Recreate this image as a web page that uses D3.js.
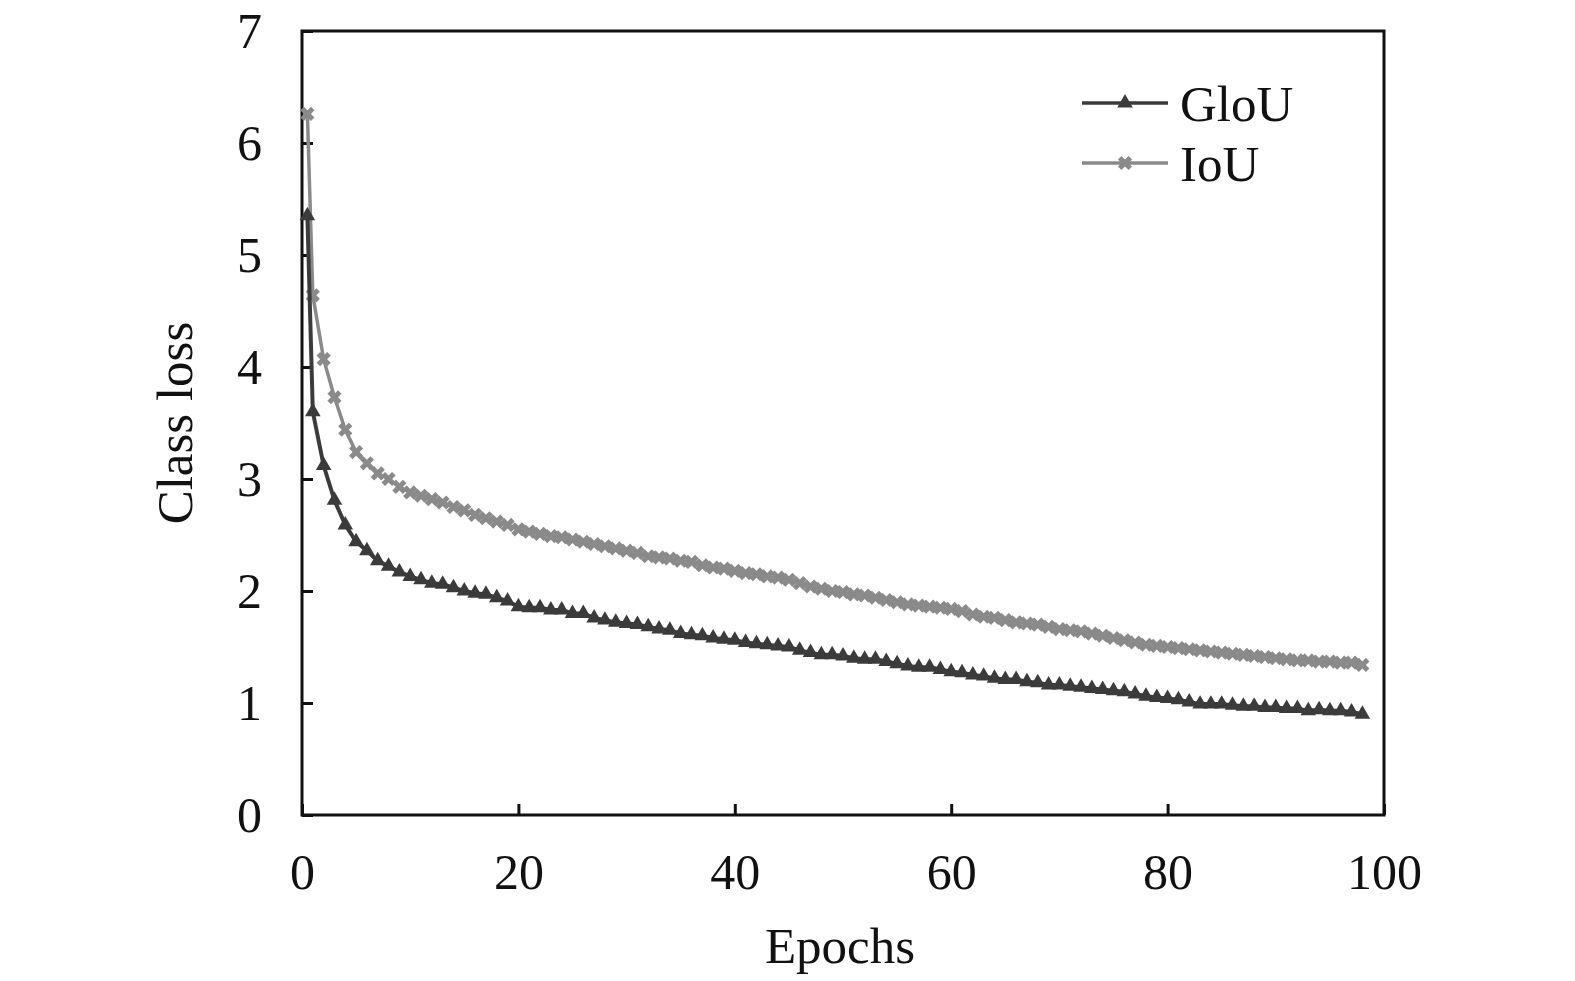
<!DOCTYPE html>
<html>
<head>
<meta charset="utf-8">
<script src="https://cdn.jsdelivr.net/npm/d3@7"></script>
<style>
  body { margin: 0; background: #fff; }
  svg text { font-family: "Liberation Serif", "DejaVu Serif", serif; fill: #111; }
</style>
</head>
<body>
<svg width="1575" height="981"></svg>
<script>
"use strict";

const epochs = [0.5].concat(d3.range(1, 99));

const glouLoss = [
    5.35, 3.60, 3.12, 2.81, 2.59, 2.44, 2.36, 2.27, 2.22, 2.17,
    2.13, 2.10, 2.07, 2.06, 2.03, 2.00, 1.98, 1.97, 1.94, 1.91,
    1.86, 1.85, 1.85, 1.83, 1.83, 1.80, 1.80, 1.76, 1.74, 1.72,
    1.71, 1.70, 1.68, 1.66, 1.65, 1.62, 1.61, 1.60, 1.58, 1.57,
    1.56, 1.54, 1.53, 1.52, 1.51, 1.50, 1.47, 1.45, 1.43, 1.43,
    1.42, 1.40, 1.39, 1.39, 1.37, 1.35, 1.33, 1.32, 1.32, 1.30,
    1.28, 1.27, 1.25, 1.24, 1.22, 1.21, 1.21, 1.19, 1.18, 1.16,
    1.16, 1.15, 1.14, 1.13, 1.12, 1.11, 1.10, 1.08, 1.06, 1.05,
    1.04, 1.03, 1.01, 0.99, 0.99, 0.99, 0.98, 0.97, 0.97, 0.96,
    0.96, 0.95, 0.95, 0.93, 0.94, 0.93, 0.93, 0.92, 0.90
];

const iouLoss = [
    6.26, 4.64, 4.07, 3.73, 3.44, 3.24, 3.14, 3.05, 3.00, 2.93,
    2.88, 2.85, 2.82, 2.79, 2.75, 2.72, 2.68, 2.65, 2.62, 2.59,
    2.55, 2.53, 2.51, 2.49, 2.48, 2.46, 2.44, 2.42, 2.40, 2.38,
    2.36, 2.34, 2.31, 2.30, 2.29, 2.27, 2.26, 2.23, 2.21, 2.20,
    2.18, 2.16, 2.15, 2.13, 2.12, 2.10, 2.07, 2.04, 2.02, 2.00,
    1.99, 1.97, 1.96, 1.94, 1.92, 1.90, 1.88, 1.87, 1.86, 1.85,
    1.84, 1.82, 1.79, 1.77, 1.76, 1.74, 1.72, 1.71, 1.70, 1.68,
    1.66, 1.65, 1.64, 1.62, 1.60, 1.58, 1.56, 1.54, 1.52, 1.51,
    1.50, 1.49, 1.48, 1.47, 1.46, 1.45, 1.44, 1.43, 1.42, 1.41,
    1.40, 1.39, 1.38, 1.38, 1.37, 1.37, 1.36, 1.36, 1.34
];

const xTicks = [0, 20, 40, 60, 80, 100];
const yTicks = [0, 1, 2, 3, 4, 5, 6, 7];

const seriesNames = ['GloU', 'IoU'];
const seriesColors = { GloU: '#3b3b3b', IoU: '#8a8a8a' };

const svg = d3.select('svg');
const margin = {top: 31, right: 191, bottom: 166, left: 302},
    width = +svg.attr('width') - margin.left - margin.right,
    height = +svg.attr('height') - margin.top - margin.bottom,
    g = svg.append('g').attr('transform', `translate(${margin.left},${margin.top})`);

const x = d3.scaleLinear().domain([0, 100]).range([0, width]);
const y = d3.scaleLinear().domain([0, 7]).range([height, 0]);

// axes, ticks pointing inward
const xAxis = g.append('g')
    .attr('transform', `translate(0,${height})`)
    .call(d3.axisBottom(x).tickValues(xTicks).tickFormat(d3.format('d'))
        .tickSizeInner(-11).tickSizeOuter(0).tickPadding(38));
const yAxis = g.append('g')
    .call(d3.axisLeft(y).tickValues(yTicks).tickFormat(d3.format('d'))
        .tickSizeInner(-11).tickSizeOuter(0).tickPadding(40));

[xAxis, yAxis].forEach(a => {
    a.select('.domain').remove();
    a.selectAll('line').attr('stroke', '#111').attr('stroke-width', 3);
    a.selectAll('text').attr('font-size', '50px').attr('fill', '#111');
});

// frame
g.append('rect')
    .attr('width', width).attr('height', height)
    .attr('fill', 'none').attr('stroke', '#111').attr('stroke-width', 3);

g.append('text')
    .attr('x', width / 2 - 3).attr('y', height + 148)
    .attr('text-anchor', 'middle').attr('font-size', '51px')
    .text('Epochs');

g.append('text')
    .attr('transform', `translate(${-110},${height / 2}) rotate(-90)`)
    .attr('text-anchor', 'middle').attr('font-size', '51px')
    .text('Class loss');

const tri = d3.symbol().type(d3.symbolTriangle).size(105);
const cross = d3.symbol().type(d3.symbolCross).size(125);

function drawSeries(values, name) {
    const pts = epochs.map((e, i) => ({e: e, v: values[i]}));
    const line = d3.line().x(d => x(d.e)).y(d => y(d.v));
    const col = seriesColors[name];
    g.append('path')
        .datum(pts)
        .attr('fill', 'none')
        .attr('stroke', col)
        .attr('stroke-width', name === 'GloU' ? 4 : 3.5)
        .attr('d', line);
    g.selectAll(`.pt-${name}`)
        .data(pts)
        .enter().append('path')
        .attr('class', `pt-${name}`)
        .attr('transform', d => `translate(${x(d.e)},${y(d.v)})` + (name === 'IoU' ? ' rotate(45)' : ''))
        .attr('d', name === 'GloU' ? tri : cross)
        .attr('fill', col);
}

drawSeries(iouLoss, 'IoU');
drawSeries(glouLoss, 'GloU');

// legend
const legend = svg.append('g').attr('transform', 'translate(1082,103)');
seriesNames.forEach((name, i) => {
    const row = legend.append('g').attr('transform', `translate(0,${i * 60})`);
    row.append('line')
        .attr('x1', 0).attr('x2', 86)
        .attr('stroke', seriesColors[name]).attr('stroke-width', 3.5);
    row.append('path')
        .attr('transform', `translate(43,0)` + (name === 'IoU' ? ' rotate(45)' : ''))
        .attr('d', name === 'GloU' ? tri : cross)
        .attr('fill', seriesColors[name]);
    row.append('text')
        .attr('x', 98).attr('y', 0).attr('dy', '0.35em')
        .attr('font-size', '51px')
        .text(name);
});
</script>
</body>
</html>
